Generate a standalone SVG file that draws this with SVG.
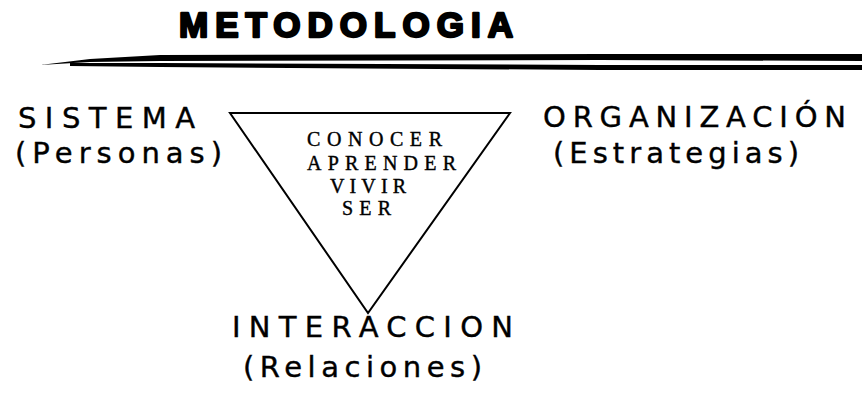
<svg xmlns="http://www.w3.org/2000/svg" width="862" height="395" viewBox="0 0 862 395">
<style>
.lbl{font-family:"DejaVu Sans","Verdana",sans-serif;font-size:29px;fill:#000;stroke:#000;stroke-width:0.4}
.inner{font-family:"Liberation Serif","Times New Roman",serif;font-size:20px;fill:#000;stroke:#000;stroke-width:0.4}
.title{font-family:"Liberation Sans","Arial",sans-serif;font-weight:bold;font-size:35px;fill:#000;stroke:#000;stroke-width:2.4;stroke-linejoin:round}
</style>
<rect width="862" height="395" fill="#fff"/>
<g id="title">
<text class="title" x="179" y="37" textLength="334" lengthAdjust="spacing">METODOLOGIA</text>
<polygon points="40,65 90,59 160,55 600,54 862,54 862,61 600,60 160,61 90,62" fill="#000"/>
<polygon points="70,63 160,63 600,65 862,65 862,70 600,70 160,67 70,66" fill="#000"/>
</g>
<g id="connectors">
<polygon id="triangle" points="230,113 510,113 368,313" fill="none" stroke="#000" stroke-width="2" stroke-linejoin="miter"/>
</g>
<g id="center">
<text class="inner" x="307" y="146" textLength="135" lengthAdjust="spacing">CONOCER</text>
<text class="inner" x="307" y="170" textLength="149" lengthAdjust="spacing">APRENDER</text>
<text class="inner" x="330" y="193" textLength="76" lengthAdjust="spacing">VIVIR</text>
<text class="inner" x="342" y="215" textLength="49" lengthAdjust="spacing">SER</text>
</g>
<g id="sistema">
<text class="lbl" x="18" y="128" textLength="177" lengthAdjust="spacing">SISTEMA</text>
<text class="lbl" x="15" y="163" textLength="207" lengthAdjust="spacing">(Personas)</text>
</g>
<g id="organizacion">
<text class="lbl" x="543" y="127" textLength="303" lengthAdjust="spacing">ORGANIZACIÓN</text>
<text class="lbl" x="553" y="163" textLength="246" lengthAdjust="spacing">(Estrategias)</text>
</g>
<g id="interaccion">
<text class="lbl" x="232" y="337" textLength="281" lengthAdjust="spacing">INTERACCION</text>
<text class="lbl" x="243" y="377" textLength="239" lengthAdjust="spacing">(Relaciones)</text>
</g>
</svg>
